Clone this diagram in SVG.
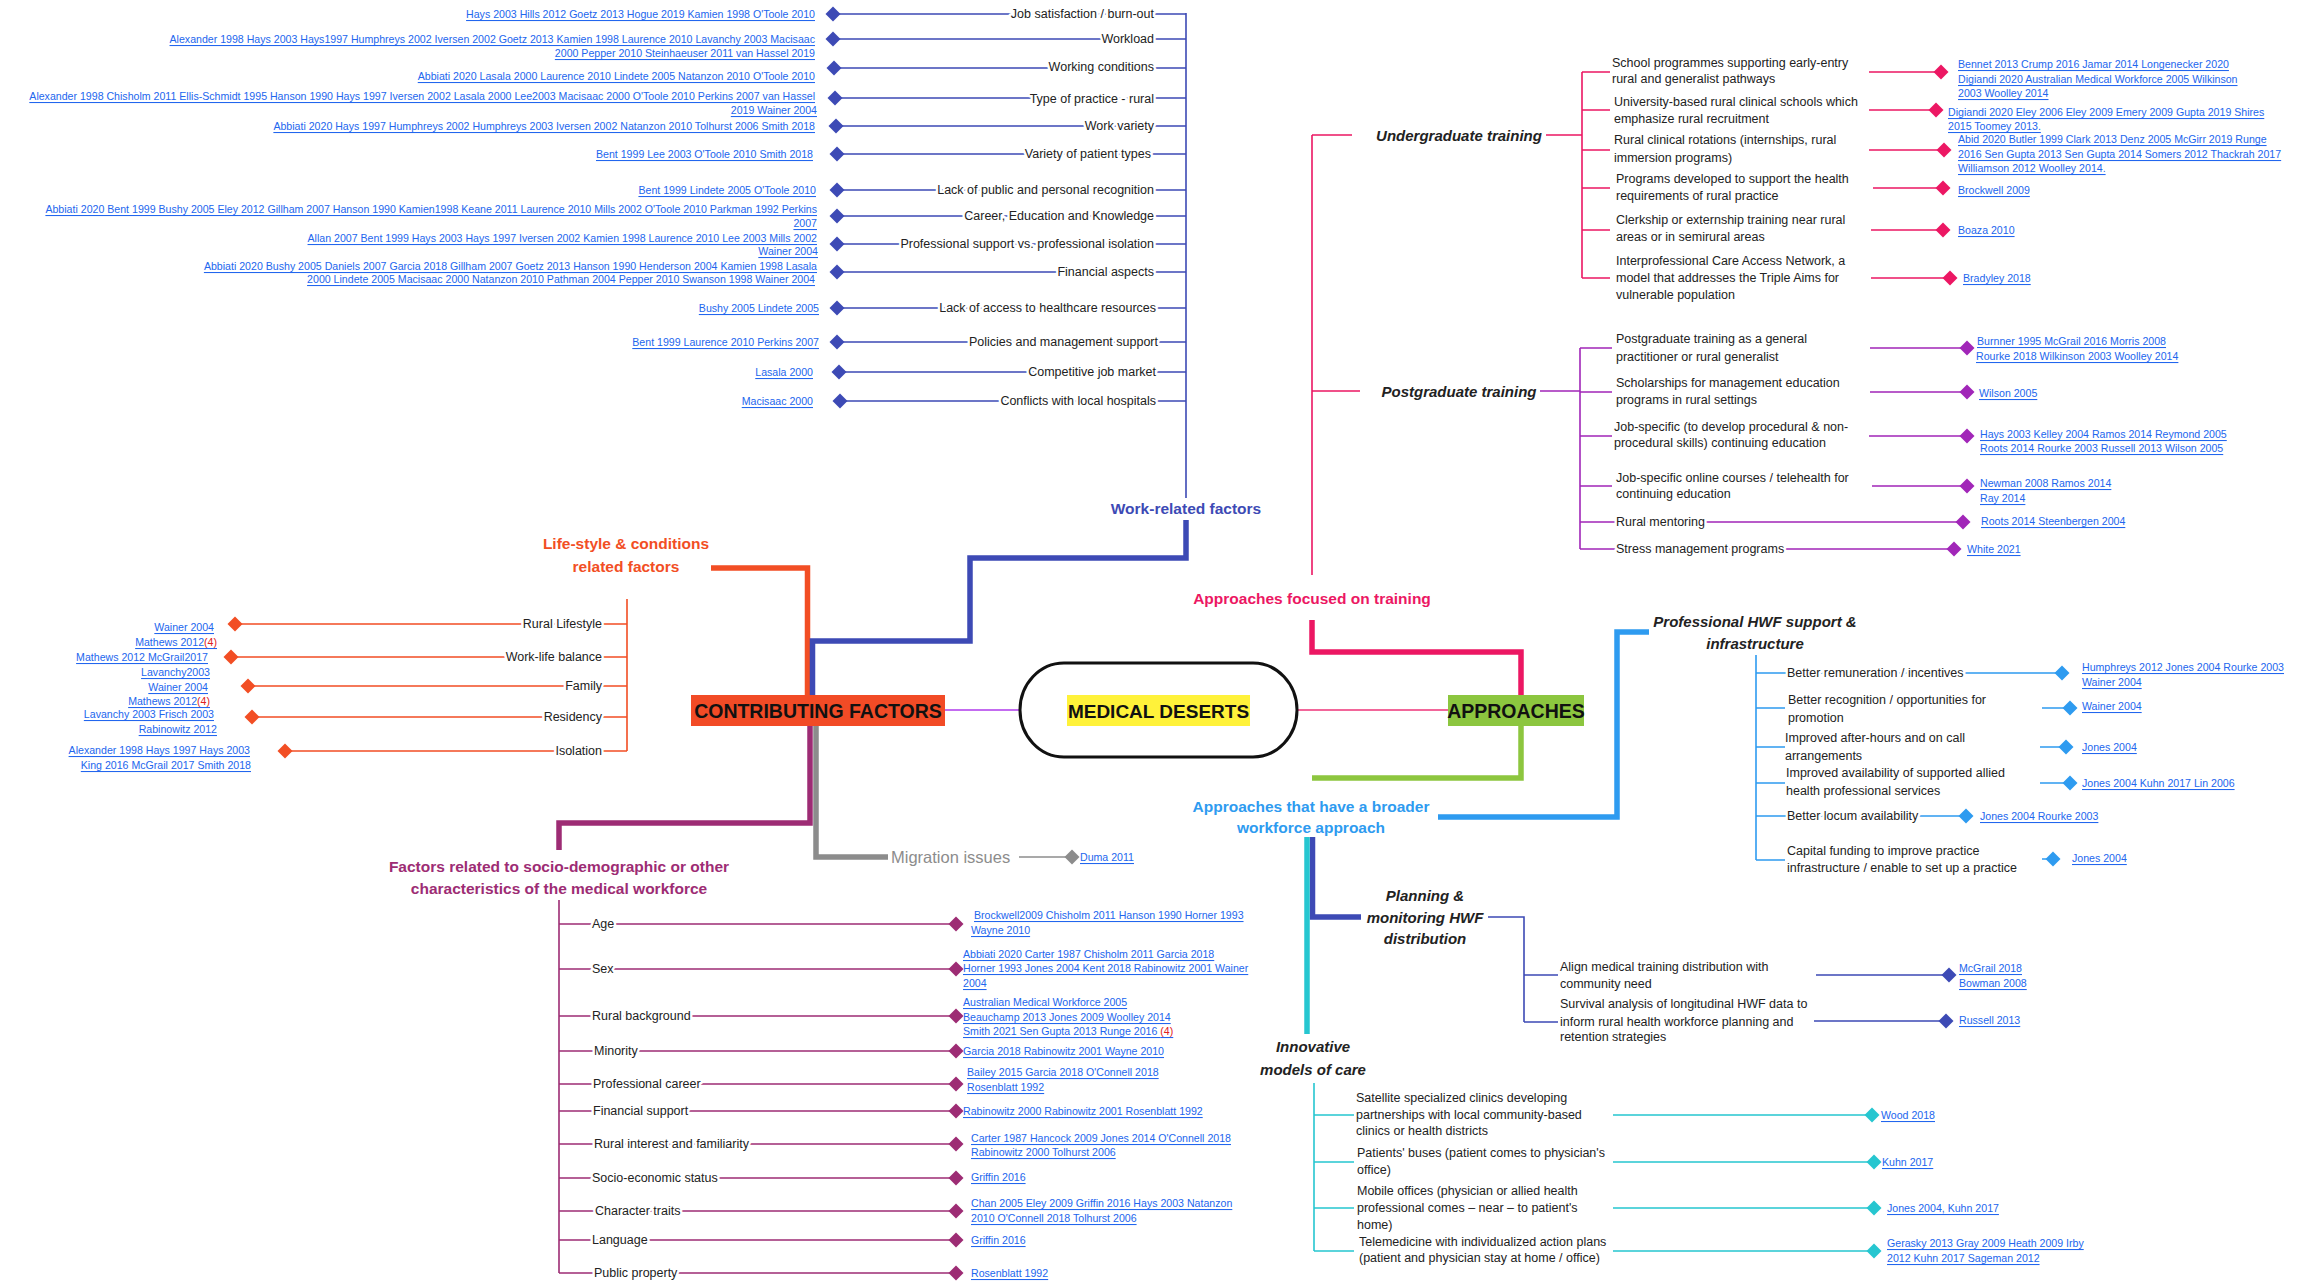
<svg xmlns="http://www.w3.org/2000/svg" width="2305" height="1283" viewBox="0 0 2305 1283">
<style>
text{font-family:"Liberation Sans",Arial,sans-serif;dominant-baseline:central}
.lb{font-size:12.5px;fill:#222}
.ct{font-size:10.6px;fill:#2266EE;text-decoration:underline}
.r4{fill:#E02020;text-decoration:none}
.e{text-anchor:end}
.m{text-anchor:middle}
.h{paint-order:stroke;stroke:#fff;stroke-width:5px;stroke-linejoin:round}
.bt{font-size:15.5px;font-weight:bold}
.it{font-size:15px;font-weight:bold;font-style:italic;fill:#222}
.big{font-size:19.5px;font-weight:bold;fill:#111}
.k{fill:none;stroke-width:5.5}
.t{fill:none;stroke-width:1.6}
.cw{stroke:#3D4AB5}.fw{fill:#3D4AB5}
.co{stroke:#F24E24}.fo{fill:#F24E24}
.cp{stroke:#9D2C74}.fp{fill:#9D2C74}
.cg{stroke:#8C8C8C}.fg{fill:#8C8C8C}
.ck{stroke:#EC1763}.fk{fill:#EC1763}
.cv{stroke:#A126B8}.fv{fill:#A126B8}
.cb{stroke:#2E9BF0}.fb{fill:#2E9BF0}
.cn{stroke:#8DC63F}
.cc{stroke:#26C6D0}.fc{fill:#26C6D0}
</style>
<defs><path id="dm" d="M0,-7.5L7.5,0L0,7.5L-7.5,0Z"/></defs>
<rect width="2305" height="1283" fill="#fff"/>

<g id="connectors">
<line x1="945" y1="710" x2="1020" y2="710" stroke="#C36BF0" stroke-width="2"/>
<line x1="1297" y1="710" x2="1448" y2="710" stroke="#F2669A" stroke-width="2"/>
<path class="k co" d="M807.5,695V568H711"/>
<path class="k cw" d="M812.5,695V641H970V558H1186V520"/>
<path class="k cp" d="M810,726V823H559V850"/>
<path class="k cg" d="M816,726V857H888"/>
<path class="k ck" d="M1521,695V652H1312V620"/>
<path class="k cn" d="M1521,726V778H1312"/>
<path class="k cb" d="M1438,817H1617V632H1649"/>
<path class="k cw" d="M1312.5,837V917H1361"/>
<path class="k cc" d="M1307,837V1034"/>
<path class="t cw" d="M1186,13V498M833,14H1186M833,39H1186M834,68H1186M835,98H1186M836,126H1186M837,154H1186M837,190H1186M837,216H1186M837,244H1186M837,272H1186M837,308H1186M837,342H1186M839,372H1186M840,401H1186"/>
<path class="t co" d="M627,599V751M235,624H627M231,657H627M248,686H627M252,717H627M285,751H627"/>
<path class="t cp" d="M559,900V1273M559,924H956M559,969H956M559,1016H956M559,1051H956M559,1084H956M559,1111H956M559,1144H956M559,1178H956M559,1211H956M559,1240H956M559,1273H956"/>
<path class="t cg" d="M1019,857H1072"/>
<path class="t ck" d="M1312,135V575M1312,135H1352M1546,135H1582M1582,72V278M1582,72H1610M1869,72H1941M1582,110H1610M1869,110H1936M1582,150H1610M1869,150H1944M1582,188H1610M1873,188H1943M1582,230H1610M1871,230H1943M1582,278H1610M1871,278H1950M1312,391H1360"/>
<path class="t cv" d="M1540,391H1580M1580,348V549M1580,348H1612M1870,348H1967M1580,392H1612M1870,392H1967M1580,436H1612M1869,436H1967M1580,486H1612M1872,486H1967M1580,522H1963M1580,549H1954"/>
<path class="t cb" d="M1756,655V860M1756,673H2062M1756,708H1785M2042,708H2070M1756,747H1785M2040,747H2066M1756,783H1785M2040,783H2070M1756,816H1966M1756,860H1785M2042,859H2053"/>
<path class="t cw" d="M1488,917H1524V1022M1524,975H1558M1816,975H1949M1524,1022H1558M1814,1021H1946"/>
<path class="t cc" d="M1314,1083V1251M1314,1115H1354M1613,1115H1872M1314,1162H1354M1613,1162H1874M1314,1208H1354M1613,1208H1874M1314,1251H1354M1613,1251H1874"/>
</g>

<g id="central">
<rect x="1020" y="663" width="277" height="94" rx="44" ry="47" fill="#fff" stroke="#111" stroke-width="3"/>
<rect x="1067" y="695" width="183" height="31" fill="#FFF23A"/>
<text class="big m" x="1158.5" y="711" style="font-size:19px">MEDICAL DESERTS</text>
</g>
<g id="contributing">
<rect x="691" y="695" width="254" height="31" fill="#F24B26"/>
<text class="big m" x="818" y="711">CONTRIBUTING FACTORS</text>
</g>
<g id="approaches">
<rect x="1448" y="695" width="136" height="31" fill="#8CC63F"/>
<text class="big m" x="1516" y="711">APPROACHES</text>
</g>

<g id="work-related">
<text class="bt m" x="1186" y="508" fill="#3D4AB5">Work-related factors</text>
<g id="w1"><use href="#dm" x="833" y="14" class="fw"/><text class="lb e h" x="1154" y="14">Job satisfaction / burn-out</text><text class="ct e" x="815" y="14">Hays 2003 Hills 2012 Goetz 2013 Hogue 2019 Kamien 1998 O'Toole 2010</text></g>
<g id="w2"><use href="#dm" x="833" y="39" class="fw"/><text class="lb e h" x="1154" y="39">Workload</text><text class="ct e" x="815" y="39">Alexander 1998 Hays 2003 Hays1997 Humphreys 2002 Iversen 2002 Goetz 2013 Kamien 1998 Laurence 2010 Lavanchy 2003 Macisaac</text><text class="ct e" x="815" y="53">2000 Pepper 2010 Steinhaeuser 2011 van Hassel 2019</text></g>
<g id="w3"><use href="#dm" x="834" y="68" class="fw"/><text class="lb e h" x="1154" y="67">Working conditions</text><text class="ct e" x="815" y="76">Abbiati 2020 Lasala 2000 Laurence 2010 Lindete 2005 Natanzon 2010 O'Toole 2010</text></g>
<g id="w4"><use href="#dm" x="835" y="98" class="fw"/><text class="lb e h" x="1154" y="99">Type of practice - rural</text><text class="ct e" x="815" y="96">Alexander 1998 Chisholm 2011 Ellis-Schmidt 1995 Hanson 1990 Hays 1997 Iversen 2002 Lasala 2000 Lee2003 Macisaac 2000 O'Toole 2010 Perkins 2007 van Hassel</text><text class="ct e" x="817" y="110">2019 Wainer 2004</text></g>
<g id="w5"><use href="#dm" x="836" y="126" class="fw"/><text class="lb e h" x="1154" y="126">Work variety</text><text class="ct e" x="815" y="126">Abbiati 2020 Hays 1997 Humphreys 2002 Humphreys 2003 Iversen 2002 Natanzon 2010 Tolhurst 2006 Smith 2018</text></g>
<g id="w6"><use href="#dm" x="837" y="154" class="fw"/><text class="lb e h" x="1151" y="154">Variety of patient types</text><text class="ct e" x="813" y="154">Bent 1999 Lee 2003 O'Toole 2010 Smith 2018</text></g>
<g id="w7"><use href="#dm" x="837" y="190" class="fw"/><text class="lb e h" x="1154" y="190">Lack of public and personal recognition</text><text class="ct e" x="816" y="190">Bent 1999 Lindete 2005 O'Toole 2010</text></g>
<g id="w8"><use href="#dm" x="837" y="216" class="fw"/><text class="lb e h" x="1154" y="216">Career, Education and Knowledge</text><text class="ct e" x="817" y="209">Abbiati 2020 Bent 1999 Bushy 2005 Eley 2012 Gillham 2007 Hanson 1990 Kamien1998 Keane 2011 Laurence 2010 Mills 2002 O'Toole 2010 Parkman 1992 Perkins</text><text class="ct e" x="817" y="223">2007</text></g>
<g id="w9"><use href="#dm" x="837" y="244" class="fw"/><text class="lb e h" x="1154" y="244">Professional support vs. professional isolation</text><text class="ct e" x="817" y="238">Allan 2007 Bent 1999 Hays 2003 Hays 1997 Iversen 2002 Kamien 1998 Laurence 2010 Lee 2003 Mills 2002</text><text class="ct e" x="818" y="251">Wainer 2004</text></g>
<g id="w10"><use href="#dm" x="837" y="272" class="fw"/><text class="lb e h" x="1154" y="272">Financial aspects</text><text class="ct e" x="817" y="266">Abbiati 2020 Bushy 2005 Daniels 2007 Garcia 2018 Gillham 2007 Goetz 2013 Hanson 1990 Henderson 2004 Kamien 1998 Lasala</text><text class="ct e" x="815" y="279">2000 Lindete 2005 Macisaac 2000 Natanzon 2010 Pathman 2004 Pepper 2010 Swanson 1998 Wainer 2004</text></g>
<g id="w11"><use href="#dm" x="837" y="308" class="fw"/><text class="lb e h" x="1156" y="308">Lack of access to healthcare resources</text><text class="ct e" x="819" y="308">Bushy 2005 Lindete 2005</text></g>
<g id="w12"><use href="#dm" x="837" y="342" class="fw"/><text class="lb e h" x="1158" y="342">Policies and management support</text><text class="ct e" x="819" y="342">Bent 1999 Laurence 2010 Perkins 2007</text></g>
<g id="w13"><use href="#dm" x="839" y="372" class="fw"/><text class="lb e h" x="1156" y="372">Competitive job market</text><text class="ct e" x="813" y="372">Lasala 2000</text></g>
<g id="w14"><use href="#dm" x="840" y="401" class="fw"/><text class="lb e h" x="1156" y="401">Conflicts with local hospitals</text><text class="ct e" x="813" y="401">Macisaac 2000</text></g>
</g>

<g id="lifestyle">
<text class="bt m" x="626" y="543" fill="#F24E24">Life-style &amp; conditions</text>
<text class="bt m" x="626" y="566" fill="#F24E24">related factors</text>
<g id="l1"><use href="#dm" x="235" y="624" class="fo"/><text class="lb e h" x="602" y="624">Rural Lifestyle</text><text class="ct e" x="214" y="627">Wainer 2004</text><text class="ct e" x="217" y="642">Mathews 2012<tspan class="r4">(4)</tspan></text></g>
<g id="l2"><use href="#dm" x="231" y="657" class="fo"/><text class="lb e h" x="602" y="657">Work-life balance</text><text class="ct e" x="208" y="657">Mathews 2012 McGrail2017</text><text class="ct e" x="210" y="672">Lavanchy2003</text></g>
<g id="l3"><use href="#dm" x="248" y="686" class="fo"/><text class="lb e h" x="602" y="686">Family</text><text class="ct e" x="208" y="687">Wainer 2004</text><text class="ct e" x="210" y="701">Mathews 2012<tspan class="r4">(4)</tspan></text></g>
<g id="l4"><use href="#dm" x="252" y="717" class="fo"/><text class="lb e h" x="602" y="717">Residency</text><text class="ct e" x="214" y="714">Lavanchy 2003 Frisch 2003</text><text class="ct e" x="217" y="729">Rabinowitz 2012</text></g>
<g id="l5"><use href="#dm" x="285" y="751" class="fo"/><text class="lb e h" x="602" y="751">Isolation</text><text class="ct e" x="250" y="750">Alexander 1998 Hays 1997 Hays 2003</text><text class="ct e" x="251" y="765">King 2016 McGrail 2017 Smith 2018</text></g>
</g>

<g id="socio">
<text class="bt m" x="559" y="866" fill="#9D2C74">Factors related to socio-demographic or other</text>
<text class="bt m" x="559" y="888" fill="#9D2C74">characteristics of the medical workforce</text>
<g id="s1"><use href="#dm" x="956" y="924" class="fp"/><text class="lb h" x="592" y="924">Age</text><text class="ct" x="974" y="915">Brockwell2009 Chisholm 2011 Hanson 1990 Horner 1993</text><text class="ct" x="971" y="930">Wayne 2010</text></g>
<g id="s2"><use href="#dm" x="956" y="969" class="fp"/><text class="lb h" x="592" y="969">Sex</text><text class="ct" x="963" y="954">Abbiati 2020 Carter 1987 Chisholm 2011 Garcia 2018</text><text class="ct" x="963" y="968">Horner 1993 Jones 2004 Kent 2018 Rabinowitz 2001 Wainer</text><text class="ct" x="963" y="983">2004</text></g>
<g id="s3"><use href="#dm" x="956" y="1016" class="fp"/><text class="lb h" x="592" y="1016">Rural background</text><text class="ct" x="963" y="1002">Australian Medical Workforce 2005</text><text class="ct" x="963" y="1017">Beauchamp 2013 Jones 2009 Woolley 2014</text><text class="ct" x="963" y="1031">Smith 2021 Sen Gupta 2013 Runge 2016 <tspan class="r4">(4)</tspan></text></g>
<g id="s4"><use href="#dm" x="956" y="1051" class="fp"/><text class="lb h" x="594" y="1051">Minority</text><text class="ct" x="963" y="1051">Garcia 2018 Rabinowitz 2001 Wayne 2010</text></g>
<g id="s5"><use href="#dm" x="956" y="1084" class="fp"/><text class="lb h" x="593" y="1084">Professional career</text><text class="ct" x="967" y="1072">Bailey 2015 Garcia 2018 O'Connell 2018</text><text class="ct" x="967" y="1087">Rosenblatt 1992</text></g>
<g id="s6"><use href="#dm" x="956" y="1111" class="fp"/><text class="lb h" x="593" y="1111">Financial support</text><text class="ct" x="963" y="1111">Rabinowitz 2000 Rabinowitz 2001 Rosenblatt 1992</text></g>
<g id="s7"><use href="#dm" x="956" y="1144" class="fp"/><text class="lb h" x="594" y="1144">Rural interest and familiarity</text><text class="ct" x="971" y="1138">Carter 1987 Hancock 2009 Jones 2014 O'Connell 2018</text><text class="ct" x="971" y="1152">Rabinowitz 2000 Tolhurst 2006</text></g>
<g id="s8"><use href="#dm" x="956" y="1178" class="fp"/><text class="lb h" x="592" y="1178">Socio-economic status</text><text class="ct" x="971" y="1177">Griffin 2016</text></g>
<g id="s9"><use href="#dm" x="956" y="1211" class="fp"/><text class="lb h" x="595" y="1211">Character traits</text><text class="ct" x="971" y="1203">Chan 2005 Eley 2009 Griffin 2016 Hays 2003 Natanzon</text><text class="ct" x="971" y="1218">2010 O'Connell 2018 Tolhurst 2006</text></g>
<g id="s10"><use href="#dm" x="956" y="1240" class="fp"/><text class="lb h" x="592" y="1240">Language</text><text class="ct" x="971" y="1240">Griffin 2016</text></g>
<g id="s11"><use href="#dm" x="956" y="1273" class="fp"/><text class="lb h" x="594" y="1273">Public property</text><text class="ct" x="971" y="1273">Rosenblatt 1992</text></g>
</g>

<g id="migration">
<text x="891" y="857" style="font-size:16.5px" fill="#8C8C8C">Migration issues</text>
<use href="#dm" x="1072" y="857" class="fg"/>
<text class="ct" x="1080" y="857">Duma 2011</text>
</g>

<g id="training">
<text class="bt m" x="1312" y="598" fill="#EC1763">Approaches focused on training</text>
</g>
<g id="undergraduate">
<text class="it m" x="1459" y="135">Undergraduate training</text>
<g id="u1"><text class="lb" x="1612" y="63">School programmes supporting early-entry</text><text class="lb" x="1612" y="79">rural and generalist pathways</text><use href="#dm" x="1941" y="72" class="fk"/><text class="ct" x="1958" y="64">Bennet 2013 Crump 2016 Jamar 2014 Longenecker 2020</text><text class="ct" x="1958" y="79">Digiandi 2020 Australian Medical Workforce 2005 Wilkinson</text><text class="ct" x="1958" y="93">2003 Woolley 2014</text></g>
<g id="u2"><text class="lb" x="1614" y="102">University-based rural clinical schools which</text><text class="lb" x="1614" y="119">emphasize rural recruitment</text><use href="#dm" x="1936" y="110" class="fk"/><text class="ct" x="1948" y="112">Digiandi 2020 Eley 2006 Eley 2009 Emery 2009 Gupta 2019 Shires</text><text class="ct" x="1948" y="126">2015 Toomey 2013.</text></g>
<g id="u3"><text class="lb" x="1614" y="140">Rural clinical rotations (internships, rural</text><text class="lb" x="1614" y="158">immersion programs)</text><use href="#dm" x="1944" y="150" class="fk"/><text class="ct" x="1958" y="139">Abid 2020 Butler 1999 Clark 2013 Denz 2005 McGirr 2019 Runge</text><text class="ct" x="1958" y="154">2016 Sen Gupta 2013 Sen Gupta 2014 Somers 2012 Thackrah 2017</text><text class="ct" x="1958" y="168">Williamson 2012 Woolley 2014.</text></g>
<g id="u4"><text class="lb" x="1616" y="179">Programs developed to support the health</text><text class="lb" x="1616" y="196">requirements of rural practice</text><use href="#dm" x="1943" y="188" class="fk"/><text class="ct" x="1958" y="190">Brockwell 2009</text></g>
<g id="u5"><text class="lb" x="1616" y="220">Clerkship or externship training near rural</text><text class="lb" x="1616" y="237">areas or in semirural areas</text><use href="#dm" x="1943" y="230" class="fk"/><text class="ct" x="1958" y="230">Boaza 2010</text></g>
<g id="u6"><text class="lb" x="1616" y="261">Interprofessional Care Access Network, a</text><text class="lb" x="1616" y="278">model that addresses the Triple Aims for</text><text class="lb" x="1616" y="295">vulnerable population</text><use href="#dm" x="1950" y="278" class="fk"/><text class="ct" x="1963" y="278">Bradyley 2018</text></g>
</g>
<g id="postgraduate">
<text class="it m" x="1459" y="391">Postgraduate training</text>
<g id="p1"><text class="lb" x="1616" y="339">Postgraduate training as a general</text><text class="lb" x="1616" y="357">practitioner or rural generalist</text><use href="#dm" x="1967" y="348" class="fv"/><text class="ct" x="1977" y="341">Burnner 1995 McGrail 2016 Morris 2008</text><text class="ct" x="1976" y="356">Rourke 2018 Wilkinson 2003 Woolley 2014</text></g>
<g id="p2"><text class="lb" x="1616" y="383">Scholarships for management education</text><text class="lb" x="1616" y="400">programs in rural settings</text><use href="#dm" x="1967" y="392" class="fv"/><text class="ct" x="1979" y="393">Wilson 2005</text></g>
<g id="p3"><text class="lb" x="1614" y="427">Job-specific (to develop procedural &amp; non-</text><text class="lb" x="1614" y="443">procedural skills) continuing education</text><use href="#dm" x="1967" y="436" class="fv"/><text class="ct" x="1980" y="434">Hays 2003 Kelley 2004 Ramos 2014 Reymond 2005</text><text class="ct" x="1980" y="448">Roots 2014 Rourke 2003 Russell 2013 Wilson 2005</text></g>
<g id="p4"><text class="lb" x="1616" y="478">Job-specific online courses / telehealth for</text><text class="lb" x="1616" y="494">continuing education</text><use href="#dm" x="1967" y="486" class="fv"/><text class="ct" x="1980" y="483">Newman 2008 Ramos 2014</text><text class="ct" x="1980" y="498">Ray 2014</text></g>
<g id="p5"><text class="lb h" x="1616" y="522">Rural mentoring</text><use href="#dm" x="1963" y="522" class="fv"/><text class="ct" x="1981" y="521">Roots 2014 Steenbergen 2004</text></g>
<g id="p6"><text class="lb h" x="1616" y="549">Stress management programs</text><use href="#dm" x="1954" y="549" class="fv"/><text class="ct" x="1967" y="549">White 2021</text></g>
</g>

<g id="broader">
<text class="bt m" x="1311" y="806" fill="#2E9BF0">Approaches that have a broader</text>
<text class="bt m" x="1311" y="827" fill="#2E9BF0">workforce approach</text>
</g>
<g id="hwf-support">
<text class="it m" x="1755" y="621">Professional HWF support &amp;</text>
<text class="it m" x="1755" y="643">infrastructure</text>
<g id="h1"><text class="lb h" x="1787" y="673">Better remuneration / incentives</text><use href="#dm" x="2062" y="673" class="fb"/><text class="ct" x="2082" y="667">Humphreys 2012 Jones 2004 Rourke 2003</text><text class="ct" x="2082" y="682">Wainer 2004</text></g>
<g id="h2"><text class="lb" x="1788" y="700">Better recognition / opportunities for</text><text class="lb" x="1788" y="718">promotion</text><use href="#dm" x="2070" y="708" class="fb"/><text class="ct" x="2082" y="706">Wainer 2004</text></g>
<g id="h3"><text class="lb" x="1785" y="738">Improved after-hours and on call</text><text class="lb" x="1785" y="756">arrangements</text><use href="#dm" x="2066" y="747" class="fb"/><text class="ct" x="2082" y="747">Jones 2004</text></g>
<g id="h4"><text class="lb" x="1786" y="773">Improved availability of supported allied</text><text class="lb" x="1786" y="791">health professional services</text><use href="#dm" x="2070" y="783" class="fb"/><text class="ct" x="2082" y="783">Jones 2004 Kuhn 2017 Lin 2006</text></g>
<g id="h5"><text class="lb h" x="1787" y="816">Better locum availability</text><use href="#dm" x="1966" y="816" class="fb"/><text class="ct" x="1980" y="816">Jones 2004 Rourke 2003</text></g>
<g id="h6"><text class="lb" x="1787" y="851">Capital funding to improve practice</text><text class="lb" x="1787" y="868">infrastructure / enable to set up a practice</text><use href="#dm" x="2053" y="859" class="fb"/><text class="ct" x="2072" y="858">Jones 2004</text></g>
</g>
<g id="planning">
<text class="it m" x="1425" y="895">Planning &amp;</text>
<text class="it m" x="1425" y="917">monitoring HWF</text>
<text class="it m" x="1425" y="938">distribution</text>
<g id="pl1"><text class="lb" x="1560" y="967">Align medical training distribution with</text><text class="lb" x="1560" y="984">community need</text><use href="#dm" x="1949" y="975" class="fw"/><text class="ct" x="1959" y="968">McGrail 2018</text><text class="ct" x="1959" y="983">Bowman 2008</text></g>
<g id="pl2"><text class="lb" x="1560" y="1004">Survival analysis of longitudinal HWF data to</text><text class="lb" x="1560" y="1022">inform rural health workforce planning and</text><text class="lb" x="1560" y="1037">retention strategies</text><use href="#dm" x="1946" y="1021" class="fw"/><text class="ct" x="1959" y="1020">Russell 2013</text></g>
</g>
<g id="innovative">
<text class="it m" x="1313" y="1046">Innovative</text>
<text class="it m" x="1313" y="1069">models of care</text>
<g id="i1"><text class="lb" x="1356" y="1098">Satellite specialized clinics developing</text><text class="lb" x="1356" y="1115">partnerships with local community-based</text><text class="lb" x="1356" y="1131">clinics or health districts</text><use href="#dm" x="1872" y="1115" class="fc"/><text class="ct" x="1881" y="1115">Wood 2018</text></g>
<g id="i2"><text class="lb" x="1357" y="1153">Patients' buses (patient comes to physician's</text><text class="lb" x="1357" y="1170">office)</text><use href="#dm" x="1874" y="1162" class="fc"/><text class="ct" x="1882" y="1162">Kuhn 2017</text></g>
<g id="i3"><text class="lb" x="1357" y="1191">Mobile offices (physician or allied health</text><text class="lb" x="1357" y="1208">professional comes – near – to patient's</text><text class="lb" x="1357" y="1225">home)</text><use href="#dm" x="1874" y="1208" class="fc"/><text class="ct" x="1887" y="1208">Jones 2004, Kuhn 2017</text></g>
<g id="i4"><text class="lb" x="1359" y="1242">Telemedicine with individualized action plans</text><text class="lb" x="1359" y="1258">(patient and physician stay at home / office)</text><use href="#dm" x="1874" y="1251" class="fc"/><text class="ct" x="1887" y="1243">Gerasky 2013 Gray 2009 Heath 2009 Irby</text><text class="ct" x="1887" y="1258">2012 Kuhn 2017 Sageman 2012</text></g>
</g>
</svg>
